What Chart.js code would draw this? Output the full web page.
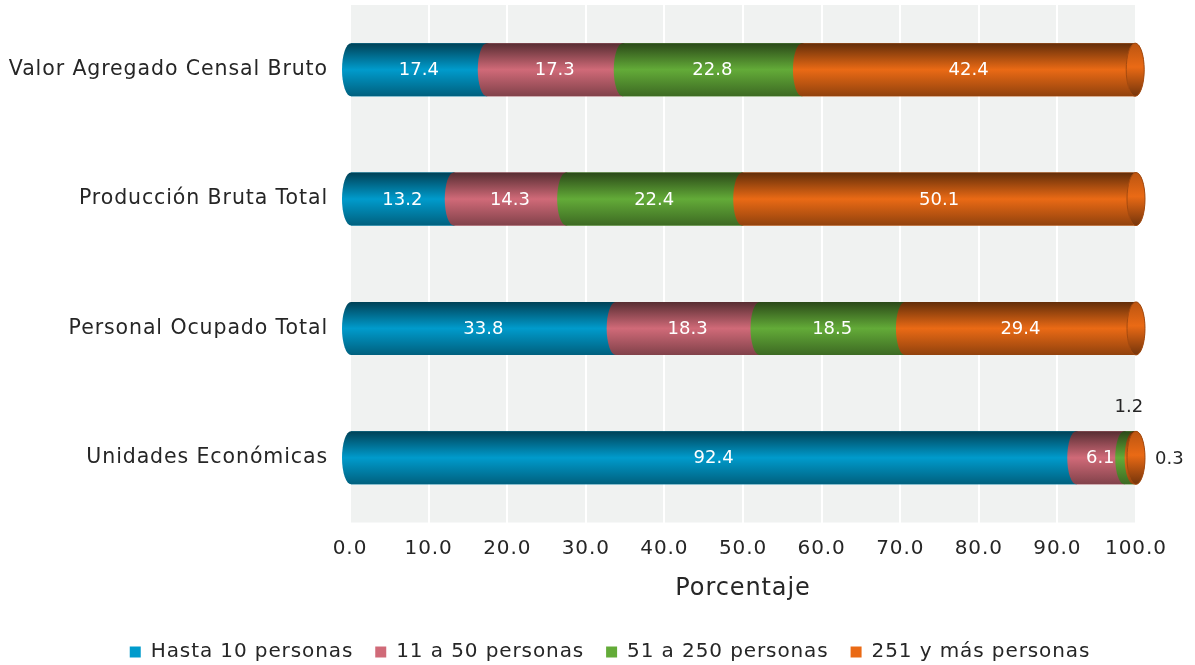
<!DOCTYPE html>
<html>
<head>
<meta charset="utf-8">
<script src="https://cdn.jsdelivr.net/npm/chart.js@4"></script>
<style>
  html, body { margin: 0; padding: 0; background: #fff; }
  #wrap { width: 1195px; height: 665px; }
</style>
</head>
<body>
<div id="wrap"><canvas id="chart-estratos"></canvas></div>
<script>
// categorias y series (porcentajes)
const categorias = [
  "Valor Agregado Censal Bruto",
  "Producción Bruta Total",
  "Personal Ocupado Total",
  "Unidades Económicas",
];
const hasta10 = [17.4, 13.2, 33.8, 92.4];
const de11a50 = [17.3, 14.3, 18.3, 6.1];
const de51a250 = [22.8, 22.4, 18.5, 1.2];
const mas251 = [42.4, 50.1, 29.4, 0.3];

const colores = ["#009bcc", "#d06a78", "#63ab38", "#ea6a15"];
const FUENTE = "'DejaVu Sans', sans-serif";
const textoColor = "#262626";
const ESPACIADO = "0.9px";

// oscurecer un color hex
function shade(hex, f) {
  const n = parseInt(hex.slice(1), 16);
  const r = Math.round(((n >> 16) & 255) * f);
  const g = Math.round(((n >> 8) & 255) * f);
  const b = Math.round((n & 255) * f);
  return `rgb(${r},${g},${b})`;
}

// fondo gris del area de graficado + espaciado de letras
const fondoPlugin = {
  id: "fondo",
  beforeLayout(chart) {
    chart.ctx.letterSpacing = ESPACIADO;
  },
  afterLayout(chart) {
    // centrar la leyenda como en la imagen original
    chart.legend.left += 42;
    chart.legend.right += 42;
  },
  beforeDraw(chart) {
    const { ctx, chartArea } = chart;
    ctx.letterSpacing = ESPACIADO;
    ctx.save();
    ctx.fillStyle = "#f0f2f1";
    ctx.fillRect(chartArea.left, chartArea.top, chartArea.right - chartArea.left, chartArea.bottom - chartArea.top);
    ctx.restore();
  },
};

// dibuja cada segmento como cilindro
const cilindroPlugin = {
  id: "cilindro",
  afterDatasetsDraw(chart) {
    const ctx = chart.ctx;
    const rx = 9;
    ctx.save();
    ctx.letterSpacing = "0px";
    chart.data.datasets.forEach((ds, di) => {
      const meta = chart.getDatasetMeta(di);
      meta.data.forEach((bar) => {
        const x0 = Math.min(bar.base, bar.x);
        const x1 = Math.max(bar.base, bar.x);
        const top = bar.y - bar.height / 2;
        const bottom = bar.y + bar.height / 2;
        const ry = bar.height / 2;
        const color = colores[di];
        const grad = ctx.createLinearGradient(0, top, 0, bottom);
        grad.addColorStop(0, shade(color, 0.42));
        grad.addColorStop(0.5, color);
        grad.addColorStop(1, shade(color, 0.62));
        ctx.beginPath();
        ctx.moveTo(x1, top);
        ctx.lineTo(x0, top);
        ctx.ellipse(x0, bar.y, rx, ry, 0, -Math.PI / 2, Math.PI / 2, true);
        ctx.lineTo(x1, bottom);
        ctx.ellipse(x1, bar.y, rx, ry, 0, Math.PI / 2, -Math.PI / 2, true);
        ctx.closePath();
        ctx.fillStyle = grad;
        ctx.fill();
        if (di === chart.data.datasets.length - 1) {
          // tapa del cilindro
          const g2 = ctx.createLinearGradient(0, top, 0, bottom);
          g2.addColorStop(0, shade(color, 0.8));
          g2.addColorStop(0.45, color);
          g2.addColorStop(1, shade(color, 0.5));
          ctx.beginPath();
          ctx.ellipse(x1, bar.y, rx, ry, 0, 0, Math.PI * 2);
          ctx.fillStyle = g2;
          ctx.fill();
          ctx.lineWidth = 1;
          ctx.strokeStyle = shade(color, 0.7);
          ctx.stroke();
        }
      });
    });
    // etiquetas de datos
    ctx.font = "18px " + FUENTE;
    ctx.textBaseline = "middle";
    chart.data.datasets.forEach((ds, di) => {
      const meta = chart.getDatasetMeta(di);
      meta.data.forEach((bar, i) => {
        const v = ds.data[i];
        const txt = v.toFixed(1);
        const cx = (bar.base + bar.x) / 2;
        if (v >= 3) {
          ctx.fillStyle = "#ffffff";
          ctx.textAlign = "center";
          ctx.fillText(txt, cx, bar.y + 1);
        } else if (di === 2) {
          ctx.fillStyle = textoColor;
          ctx.textAlign = "center";
          ctx.fillText(txt, cx, bar.y - bar.height / 2 - 24);
        } else {
          ctx.fillStyle = textoColor;
          ctx.textAlign = "left";
          ctx.fillText(txt, bar.x + rx + 10, bar.y + 2);
        }
      });
    });
    ctx.restore();
  },
};

const ctxEstratos = document.getElementById("chart-estratos");

new Chart(ctxEstratos, {
  type: "bar",
  data: {
    labels: categorias,
    datasets: [
      { label: "Hasta 10 personas", data: hasta10, backgroundColor: colores[0] },
      { label: "11 a 50 personas", data: de11a50, backgroundColor: colores[1] },
      { label: "51 a 250 personas", data: de51a250, backgroundColor: colores[2] },
      { label: "251 y más personas", data: mas251, backgroundColor: colores[3] },
    ],
  },
  options: {
    indexAxis: "y",
    responsive: true,
    maintainAspectRatio: false,
    animation: false,
    datasets: {
      bar: { barPercentage: 0.82, categoryPercentage: 0.5 },
    },
    layout: { padding: { top: 5, right: 59, left: 0, bottom: -7 } },
    scales: {
      x: {
        stacked: true,
        min: 0,
        max: 100,
        border: { display: false },
        grid: { color: "#ffffff", lineWidth: 2, drawTicks: false },
        ticks: {
          stepSize: 10,
          padding: 14,
          color: textoColor,
          font: { family: FUENTE, size: 20 },
          callback: (v) => Number(v).toFixed(1),
        },
        title: {
          display: true,
          text: "Porcentaje",
          color: textoColor,
          font: { family: FUENTE, size: 24 },
          padding: { top: 10, bottom: 17 },
        },
        afterFit(scale) {
          scale.height = 97.5;
          scale.paddingLeft = 0;
          scale.paddingRight = 0;
        },
      },
      y: {
        stacked: true,
        border: { display: false },
        grid: { display: false, drawTicks: false },
        ticks: {
          padding: 22,
          color: textoColor,
          font: { family: FUENTE, size: 20.5 },
        },
        afterFit(scale) {
          scale.width = 350;
          scale.paddingTop = 0;
          scale.paddingBottom = 0;
        },
      },
    },
    plugins: {
      tooltip: { enabled: false },
      legend: {
        position: "bottom",
        labels: {
          boxWidth: 11,
          boxHeight: 11,
          padding: 22,
          color: textoColor,
          font: { family: FUENTE, size: 20 },
        },
      },
    },
  },
  plugins: [fondoPlugin, cilindroPlugin],
});
</script>
</body>
</html>
